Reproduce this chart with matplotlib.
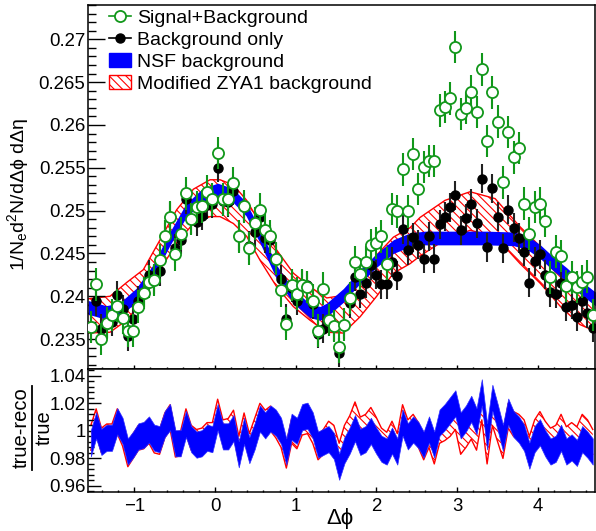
import numpy as np
import matplotlib
matplotlib.use('Agg')
import matplotlib.pyplot as plt
from matplotlib.lines import Line2D
from matplotlib.patches import Patch
from matplotlib.ticker import MultipleLocator

plt.rcParams['font.family'] = ['Liberation Sans', 'DejaVu Sans']
plt.rcParams['mathtext.fontset'] = 'custom'
plt.rcParams['mathtext.rm'] = 'Liberation Sans'
plt.rcParams['mathtext.it'] = 'Liberation Sans:italic'
plt.rcParams['hatch.linewidth'] = 0.8

# 96 bins in delta phi, -pi/2 .. 3pi/2
n_bins = 96
dphi = np.linspace(-np.pi / 2, 3 * np.pi / 2, n_bins + 1)
dphi = 0.5 * (dphi[1:] + dphi[:-1])

sig_bkg = [0.2364, 0.2414, 0.2350, 0.2369, 0.2378, 0.2389, 0.2375, 0.2360,
           0.2360, 0.2388, 0.2404, 0.2417, 0.2419, 0.2442, 0.2470, 0.2492,
           0.2449, 0.2473, 0.2520, 0.2490, 0.2504, 0.2505, 0.2522, 0.2513,
           0.2567, 0.2513, 0.2513, 0.2532, 0.2470, 0.2505, 0.2456, 0.2485,
           0.2501, 0.2477, 0.2470, 0.2444, 0.2407, 0.2368, 0.2413, 0.2403,
           0.2413, 0.2411, 0.2395, 0.2360, 0.2409, 0.2372, 0.2365, 0.2341,
           0.2367, 0.2398, 0.2440, 0.2426, 0.2440, 0.2460, 0.2462, 0.2470,
           0.2438, 0.2502, 0.2499, 0.2548, 0.2499, 0.2566, 0.2525, 0.2551,
           0.2558, 0.2558, 0.2617, 0.2621, 0.2631, 0.2691, 0.2613, 0.2620,
           0.2639, 0.2615, 0.2665, 0.2581, 0.2638, 0.2604, 0.2533, 0.2592,
           0.2562, 0.2573, 0.2508, 0.2473, 0.2504, 0.2508, 0.2488, 0.2422,
           0.2452, 0.2447, 0.2412, 0.2422, 0.2411, 0.2417, 0.2423, 0.2378]
sig_err = 0.0019

bkg_only = [0.2364, 0.2394, 0.2362, 0.2368, 0.2370, 0.2401, 0.2385, 0.2353,
            0.2374, 0.2395, 0.2405, 0.2425, 0.2420, 0.2429, 0.2469, 0.2493,
            0.2456, 0.2466, 0.2513, 0.2490, 0.2487, 0.2494, 0.2507, 0.2508,
            0.2550, 0.2511, 0.2510, 0.2523, 0.2470, 0.2504, 0.2459, 0.2475,
            0.2492, 0.2468, 0.2466, 0.2445, 0.2420, 0.2374, 0.2410, 0.2395,
            0.2414, 0.2413, 0.2391, 0.2356, 0.2362, 0.2372, 0.2365, 0.2334,
            0.2367, 0.2392, 0.2423, 0.2403, 0.2415, 0.2436, 0.2425, 0.2414,
            0.2414, 0.2440, 0.2424, 0.2478, 0.2454, 0.2469, 0.2460, 0.2444,
            0.2470, 0.2444, 0.2484, 0.2493, 0.2504, 0.2518, 0.2477, 0.2491,
            0.2508, 0.2485, 0.2537, 0.2457, 0.2526, 0.2493, 0.2456, 0.2501,
            0.2480, 0.2468, 0.2452, 0.2416, 0.2441, 0.2449, 0.2425, 0.2405,
            0.2403, 0.2416, 0.2388, 0.2390, 0.2376, 0.2394, 0.2380, 0.2363]
bkg_err = 0.0017

# NSF background (blue band)
nsf_x = [-1.571, -1.35, -1.186, -0.979, -0.772, -0.566, -0.359, -0.153,
         0.033, 0.219, 0.384, 0.558, 0.764, 0.97, 1.177, 1.30, 1.384, 1.59,
         1.797, 2.003, 2.21, 2.416, 2.60, 2.953, 3.366, 3.70, 3.86, 4.03,
         4.19, 4.36, 4.52, 4.67, 4.712]
nsf_mid = [0.2387, 0.2381, 0.2384, 0.2401, 0.2428, 0.2466, 0.2500, 0.2518,
           0.2524, 0.2518, 0.2502, 0.2470, 0.2428, 0.2400, 0.2383, 0.2380,
           0.2384, 0.2401, 0.2423, 0.2442, 0.2458, 0.2466, 0.2468, 0.2468,
           0.2468, 0.2467, 0.2463, 0.2452, 0.2438, 0.2425, 0.2411, 0.2400,
           0.2397]
nsf_halfwidth = 0.0008

# modified ZYA1 background (red hatched band)
zya_x = [-1.571, -1.30, -1.095, -0.888, -0.68, -0.475, -0.268, -0.062, 0.062,
         0.227, 0.392, 0.558, 0.764, 0.970, 1.177, 1.384, 1.59, 1.797, 2.003,
         2.21, 2.416, 2.54, 2.85, 3.16, 3.47, 3.78, 4.03, 4.28, 4.52, 4.712]
zya_hi = [0.2397, 0.2400, 0.2416, 0.2431, 0.2466, 0.2501, 0.2525, 0.2536,
          0.2536, 0.2530, 0.2512, 0.2485, 0.2454, 0.2427, 0.2411, 0.2398,
          0.2401, 0.2423, 0.2448, 0.2469, 0.2480, 0.2492, 0.2512, 0.2522,
          0.2514, 0.2481, 0.2458, 0.2431, 0.2409, 0.2400]
zya_lo = [0.2357, 0.2358, 0.2372, 0.2396, 0.2431, 0.2462, 0.2485, 0.2493,
          0.2493, 0.2485, 0.2470, 0.2442, 0.2411, 0.2388, 0.2372, 0.2358,
          0.2357, 0.2376, 0.2400, 0.2427, 0.2438, 0.2447, 0.2466, 0.2477,
          0.2470, 0.2438, 0.2415, 0.2388, 0.2367, 0.2359]

# ratio panel, band centres per bin
nsf_ratio = [0.991, 1.004, 0.992, 0.995, 0.995, 1.007, 1.000, 0.985,
             0.990, 0.996, 0.997, 1.001, 0.995, 0.994, 1.005, 1.010,
             0.991, 0.991, 1.005, 0.994, 0.990, 0.991, 0.995, 0.994,
             1.010, 0.996, 0.996, 1.002, 0.983, 1.000, 0.986, 0.996,
             1.009, 1.004, 1.009, 1.006, 1.000, 0.985, 1.003, 1.000,
             1.010, 1.011, 1.004, 0.990, 0.992, 0.994, 0.989, 0.974,
             0.986, 0.993, 1.002, 0.992, 0.994, 1.000, 0.993, 0.987,
             0.985, 0.993, 0.985, 1.006, 0.996, 1.001, 0.997, 0.990,
             1.001, 0.990, 1.006, 1.010, 1.015, 1.020, 1.004, 1.009,
             1.016, 1.007, 1.028, 0.996, 1.024, 1.010, 0.995, 1.014,
             1.005, 1.001, 0.995, 0.982, 0.994, 0.999, 0.991, 0.985,
             0.987, 0.995, 0.985, 0.988, 0.984, 0.994, 0.990, 0.985]
nsf_ratio_hw = 0.0095

zya_ratio = [0.995, 1.007, 0.993, 0.996, 0.996, 1.007, 0.998, 0.983,
             0.989, 0.995, 0.996, 1.000, 0.993, 0.992, 1.004, 1.010,
             0.990, 0.991, 1.007, 0.995, 0.992, 0.993, 0.997, 0.997,
             1.014, 0.999, 1.000, 1.006, 0.987, 1.004, 0.989, 1.000,
             1.011, 1.006, 1.009, 1.004, 0.997, 0.982, 1.000, 0.996,
             1.006, 1.007, 1.000, 0.988, 0.992, 0.998, 0.995, 0.982,
             0.995, 1.002, 1.012, 1.001, 1.003, 1.008, 1.001, 0.993,
             0.990, 0.998, 0.989, 1.010, 0.999, 1.003, 0.997, 0.988,
             0.997, 0.985, 1.000, 1.002, 1.005, 1.010, 0.992, 0.997,
             1.003, 0.995, 1.017, 0.985, 1.013, 1.001, 0.989, 1.011,
             1.005, 1.003, 0.999, 0.987, 0.999, 1.005, 0.998, 0.993,
             0.995, 1.003, 0.994, 0.997, 0.994, 1.003, 0.999, 0.992]
zya_ratio_hw = 0.009

green = '#11971a'
fig = plt.figure(figsize=(5.96, 5.31), dpi=100)
ax1 = fig.add_axes([0.148, 0.305, 0.851, 0.6855])
ax2 = fig.add_axes([0.148, 0.0729, 0.851, 0.2321])

nsf_mid = np.array(nsf_mid)
ax1.fill_between(zya_x, zya_lo, zya_hi, facecolor='none', edgecolor='red',
                 hatch='\\\\\\\\', linewidth=0, zorder=1)
ax1.plot(zya_x, zya_hi, color='red', lw=1, zorder=1)
ax1.plot(zya_x, zya_lo, color='red', lw=1, zorder=1)
ax1.fill_between(nsf_x, nsf_mid - nsf_halfwidth, nsf_mid + nsf_halfwidth,
                 color='blue', lw=0, zorder=2)
ax1.errorbar(dphi, bkg_only, yerr=bkg_err, fmt='o', color='black',
             ecolor='#222222', elinewidth=1.5, ms=6.5, capsize=0, zorder=3)
ax1.errorbar(dphi, sig_bkg, yerr=sig_err, fmt='o', mfc='white', mec=green,
             mew=1.3, ecolor=green, elinewidth=1.5, ms=8, capsize=0, zorder=4)

ax1.set_xlim(-np.pi / 2, 3 * np.pi / 2)
ax1.set_ylim(0.2315, 0.274)
ax1.yaxis.set_major_locator(MultipleLocator(0.005))
ax1.yaxis.set_minor_locator(MultipleLocator(0.001))
ax1.xaxis.set_major_locator(MultipleLocator(1))
ax1.xaxis.set_minor_locator(MultipleLocator(0.2))
ax1.set_yticks([0.235, 0.24, 0.245, 0.25, 0.255, 0.26, 0.265, 0.27])
ax1.set_yticklabels(['0.235', '0.24', '0.245', '0.25', '0.255', '0.26', '0.265', '0.27'])
ax1.tick_params(axis='y', which='major', direction='in', length=12, width=1, labelsize=13.4, pad=2)
ax1.tick_params(axis='y', which='minor', direction='in', length=6, width=1)
ax1.tick_params(axis='x', which='major', direction='in', length=3, width=1, labelbottom=False)
ax1.tick_params(axis='x', which='minor', direction='in', length=1.5, width=1)
ax1.set_ylabel('1/N$_\\mathregular{e}$d$^\\mathregular{2}$N/dΔϕ dΔη', fontsize=14)
ax1.yaxis.set_label_coords(-0.113, 0.48)

handles = [Line2D([0], [0], color=green, marker='o', mfc='white', mec=green, mew=1.3, ms=8, lw=1.2),
           Line2D([0], [0], color='black', marker='o', ms=6.5, lw=1.2),
           Patch(facecolor='blue', edgecolor='blue'),
           Patch(facecolor='white', edgecolor='red', hatch='\\\\\\\\')]
labels = ['Signal+Background', 'Background only', 'NSF background', 'Modified ZYA1 background']
ax1.legend(handles, labels, loc='upper left', bbox_to_anchor=(0.015, 1.025), frameon=False,
           fontsize=14, handlelength=1.1, handletextpad=0.3, labelspacing=0.22, borderpad=0.2)

# ratio panel
nsf_ratio = np.array(nsf_ratio)
zya_ratio = np.array(zya_ratio)
ax2.fill_between(dphi, zya_ratio - zya_ratio_hw, zya_ratio + zya_ratio_hw, facecolor='none',
                 edgecolor='red', hatch='\\\\\\\\', linewidth=0, zorder=1)
ax2.plot(dphi, zya_ratio + zya_ratio_hw, color='red', lw=1, zorder=1)
ax2.plot(dphi, zya_ratio - zya_ratio_hw, color='red', lw=1, zorder=1)
ax2.fill_between(dphi, nsf_ratio - nsf_ratio_hw, nsf_ratio + nsf_ratio_hw, color='blue',
                 lw=0.5, edgecolor='#3030ff', zorder=2)
ax2.set_xlim(-np.pi / 2, 3 * np.pi / 2)
ax2.set_ylim(0.9554, 1.0449)
ax2.set_yticks([0.96, 0.98, 1.0, 1.02, 1.04])
ax2.set_yticklabels(['0.96', '0.98', '1', '1.02', '1.04'])
ax2.yaxis.set_minor_locator(MultipleLocator(0.004))
ax2.xaxis.set_major_locator(MultipleLocator(1))
ax2.xaxis.set_minor_locator(MultipleLocator(0.2))
ax2.tick_params(axis='y', which='major', direction='in', length=9, width=1, labelsize=13.4, pad=2)
ax2.tick_params(axis='y', which='minor', direction='in', length=4.5, width=1)
ax2.tick_params(axis='x', which='major', direction='in', length=3.5, width=1, labelsize=13.4, pad=4)
ax2.tick_params(axis='x', which='minor', direction='in', length=1.8, width=1)
ax2.set_xlabel('Δϕ', fontsize=16)
ax2.xaxis.set_label_coords(0.496, -0.125)

# ratio y title as a stacked fraction
fig.text(21 / 596, 1 - 428 / 531, 'true-reco', rotation=90, ha='center', va='center', fontsize=14.5)
fig.text(44 / 596, 1 - 428 / 531, 'true', rotation=90, ha='center', va='center', fontsize=14.5)
fig.add_artist(Line2D([32 / 596, 32 / 596], [1 - 470 / 531, 1 - 386 / 531], color='black', lw=1.3))

for ax in (ax1, ax2):
    for sp in ax.spines.values():
        sp.set_linewidth(1.1)

fig.savefig('out.png', dpi=100)
